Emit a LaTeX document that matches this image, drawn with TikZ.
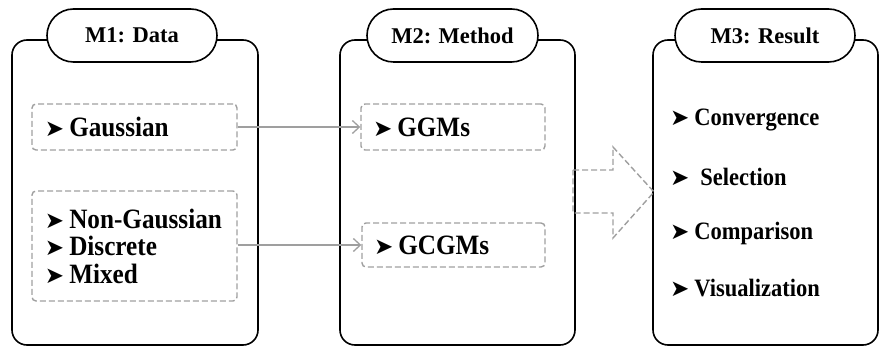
\documentclass[tikz,border=0pt]{standalone}
\usepackage{fontspec}
\setmainfont{Liberation Serif}
\newfontfamily\itemfont[FakeStretch=0.9]{Liberation Serif}
\newfontfamily\symfont{DejaVu Sans}
\usetikzlibrary{positioning,shapes.misc,arrows.meta}

\newcommand{\itemmark}{{\symfont\fontsize{23}{23}\selectfont ➤}\kern5pt}

\newcommand{\panelframe}[6]{
	\pgfmathsetmacro{\PFxa}{#2}
	\pgfmathsetmacro{\PFxb}{#3}
	\draw[panel] (\PFxa, 40) rectangle (\PFxb, 345);
	\node[pill, minimum width=#5] (#1) at (#4, 35.5) {#6};
}

\tikzset{
	panel/.style={line width=1.6pt, rounded corners=15pt},
	pill/.style={rounded rectangle, draw, line width=1.6pt, fill=white,
		minimum height=53pt, inner sep=0pt, font=\bfseries\fontsize{22.5}{22.5}\selectfont},
	dbox/.style={draw=gray!75, line width=1.4pt, dash pattern=on 6pt off 3pt,
		rounded corners=4pt, align=left, inner ysep=0pt,
		font=\itemfont\bfseries\fontsize{28}{27.5}\selectfont},
	link/.style={draw=gray!75, line width=1.3pt, -{Straight Barb[length=7pt,width=13pt]}},
	result/.style={anchor=west, inner sep=0pt, font=\itemfont\bfseries\fontsize{25}{25}\selectfont},
	bigarrow/.style={draw=gray!75, line width=1.4pt, dash pattern=on 6pt off 3pt}
}

\begin{document}
\begin{tikzpicture}[x=1pt, y=-1pt]
\useasboundingbox (0,0) rectangle (879,347);

% the three panels
\panelframe{data}{12}{258}{132}{170pt}{M1: Data}
\panelframe{method}{340}{575}{452.5}{171pt}{M2: Method}
\panelframe{result}{653}{878}{765}{180pt}{M3: Result}

% M1
\node[dbox, text width=179pt, inner xsep=13pt, minimum height=46pt] (gauss) at (134.5,127)
	{\itemmark Gaussian};
\node[dbox, text width=179pt, inner xsep=13pt, minimum height=110pt] (nongauss) at (134.5,246)
	{\itemmark\mbox{Non-Gaussian}\\ \itemmark Discrete\\ \itemmark Mixed};

% M2
\node[dbox, text width=160pt, inner xsep=12pt, minimum height=46pt] (ggm) at (453,127)
	{\itemmark GGMs};
\node[dbox, text width=159pt, inner xsep=12pt, minimum height=44pt] (gcgm) at (453.5,245)
	{\itemmark GCGMs};

\draw[link] (gauss) -- (ggm);
\draw[link] (nongauss.east |- gcgm.west) -- (gcgm.west);

% M3
\node[result] (conv) at (670,120) {\itemmark Convergence};
\node[result] (sel) at (670,177) {\itemmark\kern6pt Selection};
\node[result] (comp) at (670,233) {\itemmark Comparison};
\node[result] (vis) at (670,288) {\itemmark Visualization};

% big dashed arrow
\draw[bigarrow] (573,170) -- (613,170) -- (613,147) -- (654,192) -- (613,238)
	-- (613,213) -- (573,213) -- cycle;
\end{tikzpicture}
\end{document}
